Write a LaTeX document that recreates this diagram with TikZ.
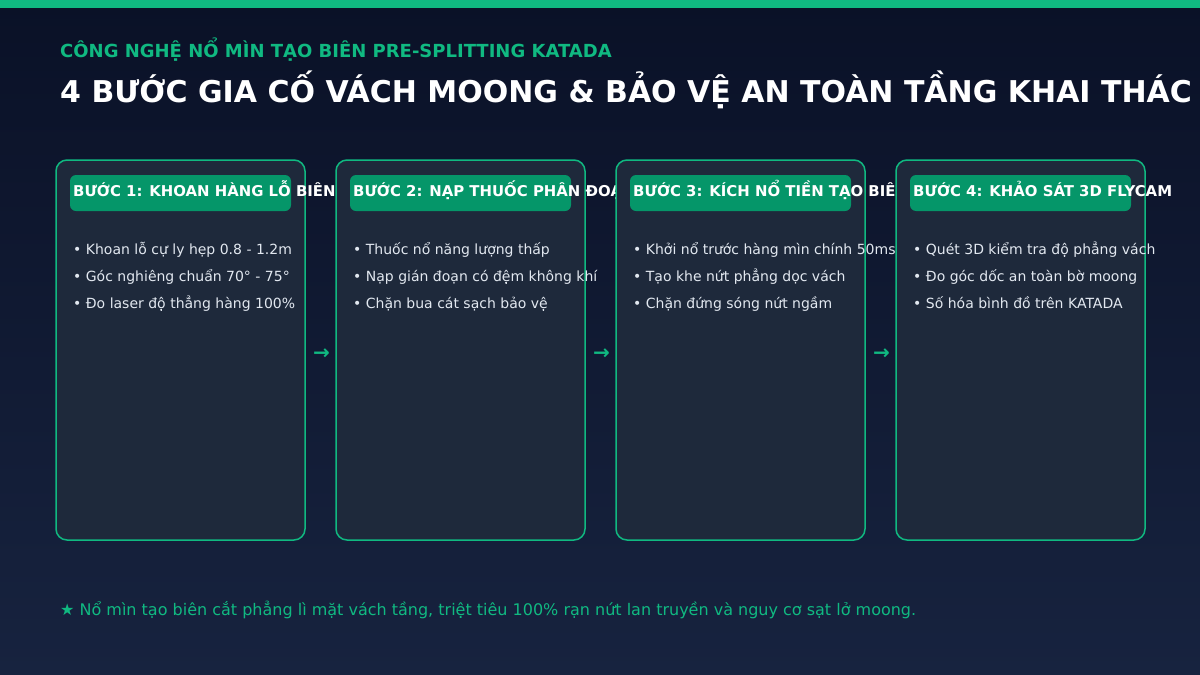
\documentclass[tikz,border=0pt]{standalone}
\usepackage{fontspec}
\setmainfont{DejaVu Sans}
\definecolor{bgtop}{HTML}{0A1127}
\definecolor{bgbot}{HTML}{17233F}
\definecolor{accent}{HTML}{10B981}
\definecolor{pillgreen}{HTML}{059669}
\definecolor{cardfill}{HTML}{1E293B}
\definecolor{bullettext}{HTML}{E2E8F0}
\tikzset{
  card/.style={draw=accent, fill=cardfill, line width=1.5pt, rounded corners=11pt},
  pill/.style={fill=pillgreen, rounded corners=6pt},
  kicker/.style={anchor=base west, inner sep=0pt, text=accent, font=\bfseries\fontsize{18}{21}\selectfont},
  headline/.style={anchor=base west, inner sep=0pt, text=white, font=\bfseries\fontsize{30}{35}\selectfont},
  steptitle/.style={anchor=base west, inner sep=0pt, text=white, font=\bfseries\fontsize{14.9}{18}\selectfont},
  bullet/.style={anchor=base west, inner sep=0pt, text=bullettext, font=\fontsize{14}{17}\selectfont},
  flowarrow/.style={inner sep=0pt, text=accent, font=\bfseries\fontsize{20}{22}\selectfont},
  footnote/.style={anchor=base west, inner sep=0pt, text=accent, font=\fontsize{16}{19}\selectfont}
}

\begin{document}
\begin{tikzpicture}[x=1pt,y=-1pt]
			%%%%% START %%%%%
			\def\cardw{249}
			\def\cardh{380}
			\def\cardtop{160}
			\def\pitch{280}
			
			\useasboundingbox (0,0) rectangle (1200,675);
			\shade[top color=bgtop, bottom color=bgbot] (0,0) rectangle (1200,675);
			\fill[accent] (0,0) rectangle (1200,8);
			
			\node[kicker] (kicker) at (60,57) {CÔNG NGHỆ NỔ MÌN TẠO BIÊN PRE-SPLITTING KATADA};
			\node[headline] (headline) at (60,102) {4 BƯỚC GIA CỐ VÁCH MOONG \& BẢO VỆ AN TOÀN TẦNG KHAI THÁC};
			
			\foreach \i/\head/\pa/\pb/\pc in {
				1/BƯỚC 1: KHOAN HÀNG LỖ BIÊN/Khoan lỗ cự ly hẹp 0.8 - 1.2m/Góc nghiêng chuẩn 70° - 75°/Đo laser độ thẳng hàng 100\%,
				2/BƯỚC 2: NẠP THUỐC PHÂN ĐOẠN/Thuốc nổ năng lượng thấp/Nạp gián đoạn có đệm không khí/Chặn bua cát sạch bảo vệ,
				3/BƯỚC 3: KÍCH NỔ TIỀN TẠO BIÊN/Khởi nổ trước hàng mìn chính 50ms/Tạo khe nứt phẳng dọc vách/Chặn đứng sóng nứt ngầm,
				4/BƯỚC 4: KHẢO SÁT 3D FLYCAM/Quét 3D kiểm tra độ phẳng vách/Đo góc dốc an toàn bờ moong/Số hóa bình đồ trên KATADA}{
				\pgfmathsetmacro\x{56+\pitch*(\i-1)}
				\draw[card] (\x,\cardtop) rectangle ++(\cardw,\cardh);
				\fill[pill] (\x+14,175) rectangle ++(221,36);
				\node[steptitle] (head\i) at (\x+17,196.5) {\head};
				\node[bullet] (pa\i) at (\x+17,254) {• \pa};
				\node[bullet] (pb\i) at (\x+17,281) {• \pb};
				\node[bullet] (pc\i) at (\x+17,308) {• \pc};
			}
			
			\foreach \i in {1,2,3}
				\node[flowarrow] (arrow\i) at (321.5+\pitch*\i-\pitch,354) {→};
			
			\node[footnote] (footnote) at (60,615) {★ Nổ mìn tạo biên cắt phẳng lì mặt vách tầng, triệt tiêu 100\% rạn nứt lan truyền và nguy cơ sạt lở moong.};
			%%%%% END %%%%%
\end{tikzpicture}
\end{document}
